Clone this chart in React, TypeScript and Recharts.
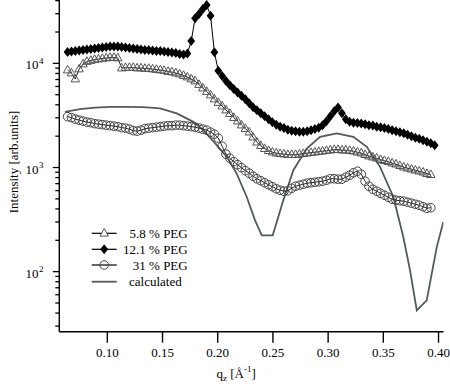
import React from 'react';
import { LineChart, Line, XAxis, YAxis, Legend } from 'recharts';

const qValues = [
  0.064, 0.0675, 0.071, 0.0745, 0.078, 0.0815, 0.085, 0.0885, 0.092, 0.0955,
  0.099, 0.1025, 0.106, 0.1095, 0.113, 0.1165, 0.12, 0.1235, 0.127, 0.1305,
  0.134, 0.1375, 0.141, 0.1445, 0.148, 0.1515, 0.155, 0.1585, 0.162, 0.1655,
  0.169, 0.1725, 0.176, 0.1795, 0.183, 0.1865, 0.19, 0.1935, 0.197, 0.2005,
  0.204, 0.2075, 0.211, 0.2145, 0.218, 0.2215, 0.225, 0.2285, 0.232, 0.2355,
  0.239, 0.2425, 0.246, 0.2495, 0.253, 0.2565, 0.26, 0.2635, 0.267, 0.2705,
  0.274, 0.2775, 0.281, 0.2845, 0.288, 0.2915, 0.295, 0.2985, 0.302, 0.3055,
  0.309, 0.3125, 0.316, 0.3195, 0.323, 0.3265, 0.33, 0.3335, 0.337, 0.3405,
  0.344, 0.3475, 0.351, 0.3545, 0.358, 0.3615, 0.365, 0.3685, 0.372, 0.3755,
  0.379, 0.3825, 0.386, 0.3895, 0.393, 0.3965,
];

// 5.8 % PEG (open triangles)
const peg58 = [
  8620, 8066, 7063, 8815, 9850, 10410, 10640, 10880, 11000, 11120,
  11250, 11370, 11370, 11250, 9010, 9110, 9110, 9110, 9010, 9010,
  8913, 8913, 8815, 8718, 8620, 8527, 8340, 8250, 8066, 7890,
  7634, 7385, 7063, 6760, 6252, 5787, 5356, 4958, 4536, 4200,
  3886, 3556, 3290, 3010, 2788, 2552, 2361, 2184, 1954, 1749,
  1620, 1516, 1451, 1403, 1373, 1358, 1343, 1328, 1328, 1328,
  1343, 1358, 1373, 1388, 1403, 1419, 1435, 1451, 1467, 1483,
  1483, 1467, 1467, 1451, 1435, 1403, 1373, 1328, 1285, 1256,
  1228, 1188, 1163, 1137, 1100, 1076, 1040, 1007, 985, 963,
  942, 921, 901, 872, 853, null,
];

// 12.1 % PEG (filled diamonds)
const peg121 = [
  12850, 12990, 13130, 13280, 13420, 13580, 13730, 13880, 14030, 14190,
  14350, 14510, 14510, 14510, 14350, 14190, 14030, 13880, 13730, 13580,
  13420, 13420, 13280, 13130, 13130, 12990, 12850, 12700, 12560, 12280,
  12150, 12420, 16380, 27100, 29770, 33270, 36360, 28700, 12760, 8490,
  7550, 6760, 6180, 5660, 5240, 4900, 4535, 4150, 3800, 3555,
  3325, 3110, 2910, 2725, 2580, 2467, 2389, 2310, 2260, 2235,
  2210, 2210, 2235, 2285, 2337, 2414, 2552, 2785, 3110, 3478,
  3760, 3325, 2910, 2755, 2697, 2668, 2640, 2608, 2552, 2525,
  2467, 2441, 2389, 2337, 2285, 2235, 2185, 2137, 2067, 1999,
  1934, 1891, 1830, 1770, 1713, 1639,
];

// 31 % PEG (open circles)
const peg31 = [
  3080, 3013, 2914, 2850, 2788, 2727, 2697, 2638, 2609, 2580,
  2551, 2523, 2495, 2468, 2414, 2388, 2335, 2259, 2234, 2284,
  2361, 2388, 2414, 2441, 2468, 2495, 2523, 2523, 2551, 2551,
  2523, 2495, 2468, 2441, 2388, 2335, 2284, 2185, 2090, 1913,
  1602, 1343, 1228, 1137, 1064, 996, 932, 881, 825, 780,
  747, 714, 683, 654, 625, 605, 592, 598, 632, 661,
  676, 691, 707, 714, 722, 730, 739, 755, 780, 780,
  772, 772, 807, 843, 891, 921, 862, 739, 661, 618,
  592, 566, 542, 518, 496, 485, 480, 475, 464, 454,
  444, 434, 420, 406, 411, null,
];

// calculated curve
const calcQ = [
  0.0617, 0.0753, 0.0889, 0.1024, 0.116, 0.1323, 0.1477, 0.1629, 0.1779, 0.187,
  0.1991, 0.2082, 0.2172, 0.2263, 0.2338, 0.2399, 0.2498, 0.2594, 0.2685, 0.2806,
  0.2927, 0.3078, 0.3228, 0.335, 0.347, 0.3591, 0.3681, 0.3742, 0.3803, 0.3893,
  0.3984, 0.4043,
];
const calcIntensity = [
  3425, 3636, 3758, 3825, 3825, 3800, 3690, 3304, 2745, 2284,
  1638, 1265, 875, 521, 311, 223, 223, 485, 943, 1523,
  1968, 2123, 1968, 1578, 1014, 521, 215, 103, 42.5, 53,
  172, 300,
];

const xTicks = [0.1, 0.15, 0.2, 0.25, 0.3, 0.35, 0.4];
const yMajorTicks = [100, 1000, 10000];
const yMinorTicks = [
  30, 40, 50, 60, 70, 80, 90,
  200, 300, 400, 500, 600, 700, 800, 900,
  2000, 3000, 4000, 5000, 6000, 7000, 8000, 9000,
  20000, 30000, 40000,
];
const seriesNames = ['5.8 % PEG', '12.1 % PEG', '31 % PEG', 'calculated'];

const rows = qValues.map((q, i) => ({
  q,
  peg58: peg58[i],
  peg121: peg121[i],
  peg31: peg31[i],
}));
const calcRows = calcQ.map((q, i) => ({ q, calc: calcIntensity[i] }));
const allYTicks = [...yMinorTicks, ...yMajorTicks].sort((a, b) => a - b);

const FONT = '"Liberation Serif", "Times New Roman", Times, serif';
const CALC_COLOR = '#535a5a';

const triPath = (cx: number, cy: number) =>
  `M${cx},${cy - 4.8} L${cx + 4.2},${cy + 2.8} L${cx - 4.2},${cy + 2.8} Z`;
const diaPath = (cx: number, cy: number) =>
  `M${cx},${cy - 5} L${cx + 3.9},${cy} L${cx},${cy + 5} L${cx - 3.9},${cy} Z`;

const TriangleDot = (p: any) => {
  const { cx, cy, index } = p;
  if (cx == null || cy == null || p.value == null) return <g key={`t${index}`} />;
  return <path key={`t${index}`} d={triPath(cx, cy)} fill="none" stroke="#555" strokeWidth={1} />;
};

const DiamondDot = (p: any) => {
  const { cx, cy, index } = p;
  if (cx == null || cy == null || p.value == null) return <g key={`d${index}`} />;
  return <path key={`d${index}`} d={diaPath(cx, cy)} fill="#000" stroke="none" />;
};

const CircleDot = (p: any) => {
  const { cx, cy, index } = p;
  if (cx == null || cy == null || p.value == null) return <g key={`c${index}`} />;
  return <circle key={`c${index}`} cx={cx} cy={cy} r={4.3} fill="none" stroke="#444" strokeWidth={1} />;
};

const YTick = (props: any) => {
  const { x, y, payload } = props;
  const v = payload.value;
  const major = yMajorTicks.includes(v);
  const exp = Math.round(Math.log10(v));
  return (
    <g>
      <line x1={x - (major ? 6.5 : 4)} y1={y} x2={x} y2={y} stroke="#000" strokeWidth={1.3} />
      {major && (
        <g fontFamily={FONT} fill="#000">
          <text x={x - 20.8} y={y + 6} fontSize={13} textAnchor="end">10</text>
          <text x={x - 20.3} y={y + 0.5} fontSize={9} textAnchor="start">{exp}</text>
        </g>
      )}
    </g>
  );
};

const YLabel = () => (
  <text
    x={13}
    y={162}
    transform="rotate(-90 13 162)"
    textAnchor="middle"
    dominantBaseline="central"
    fontFamily={FONT}
    fontSize={13}
    fill="#000"
  >
    Intensity [arb.units]
  </text>
);

const XLabel = () => (
  <text x={216.5} y={378} fontFamily={FONT} fontSize={13} fill="#000">
    q
    <tspan fontSize={9} dy={3}>z</tspan>
    <tspan dy={-3}> [Å</tspan>
    <tspan fontSize={9} dy={-6}>-1</tspan>
    <tspan dy={6}>]</tspan>
  </text>
);

const LegendContent = () => {
  const rowsY = [11.3, 27.3, 43, 59.7];
  const lx1 = 6.7;
  const lx2 = 31.7;
  const mx = 19.2;
  return (
    <svg width={110} height={70} style={{ display: 'block', overflow: 'visible' }}>
      <g fontFamily={FONT} fontSize={13} fill="#000">
        <line x1={lx1} y1={rowsY[0]} x2={lx2} y2={rowsY[0]} stroke="#000" strokeWidth={1.2} />
        <path d={triPath(mx, rowsY[0])} fill="#fff" stroke="#555" strokeWidth={1} />
        <text x={102.7} y={rowsY[0] + 4.5} textAnchor="end">{seriesNames[0]}</text>

        <line x1={lx1} y1={rowsY[1]} x2={lx2} y2={rowsY[1]} stroke="#000" strokeWidth={1.2} />
        <path d={diaPath(mx, rowsY[1])} fill="#000" />
        <text x={102.7} y={rowsY[1] + 4.5} textAnchor="end">{seriesNames[1]}</text>

        <line x1={lx1} y1={rowsY[2]} x2={lx2} y2={rowsY[2]} stroke="#000" strokeWidth={1.2} />
        <circle cx={mx} cy={rowsY[2]} r={4.3} fill="none" stroke="#444" strokeWidth={1} />
        <text x={102.7} y={rowsY[2] + 4.5} textAnchor="end">{seriesNames[2]}</text>

        <line x1={lx1} y1={rowsY[3]} x2={lx2} y2={rowsY[3]} stroke={CALC_COLOR} strokeWidth={1.8} />
        <text x={44} y={rowsY[3] + 4.5} textAnchor="start">{seriesNames[3]}</text>
      </g>
    </svg>
  );
};

export default function App() {
  return (
    <div style={{ position: 'absolute', left: 0, top: 0, width: 450, height: 386, background: '#fff', fontFamily: FONT }}>
      <LineChart
        width={450}
        height={386}
        data={rows}
        margin={{ top: 0, right: 6.5, bottom: 0, left: 0 }}
      >
        <XAxis
          type="number"
          dataKey="q"
          domain={[0.0565, 0.4045]}
          allowDataOverflow
          ticks={xTicks}
          interval={0}
          tickFormatter={(v: number) => v.toFixed(2)}
          height={54.3}
          tickSize={11}
          tickMargin={5}
          stroke="#000"
          strokeWidth={1.4}
          tick={{ fill: '#000', fontSize: 13, fontFamily: FONT }}
          label={<XLabel />}
        />
        <YAxis
          type="number"
          scale="log"
          domain={[26.5, 40600]}
          allowDataOverflow
          ticks={allYTicks}
          interval={0}
          width={59.3}
          tickSize={0}
          tickMargin={0}
          tickLine={false}
          stroke="#000"
          strokeWidth={1.4}
          tick={<YTick />}
          label={<YLabel />}
        />
        <Legend
          layout="vertical"
          align="center"
          verticalAlign="middle"
          content={<LegendContent />}
          wrapperStyle={{ position: 'absolute', left: 85, top: 222, width: 110, height: 70 }}
        />
        <Line
          data={calcRows}
          dataKey="calc"
          stroke={CALC_COLOR}
          strokeWidth={1.8}
          dot={false}
          isAnimationActive={false}
          type="linear"
        />
        <Line
          dataKey="peg31"
          stroke="#222"
          strokeWidth={1}
          dot={CircleDot}
          isAnimationActive={false}
          type="linear"
        />
        <Line
          dataKey="peg58"
          stroke="#222"
          strokeWidth={1}
          dot={TriangleDot}
          isAnimationActive={false}
          type="linear"
        />
        <Line
          dataKey="peg121"
          stroke="#000"
          strokeWidth={1}
          dot={DiamondDot}
          isAnimationActive={false}
          type="linear"
        />
      </LineChart>
    </div>
  );
}
